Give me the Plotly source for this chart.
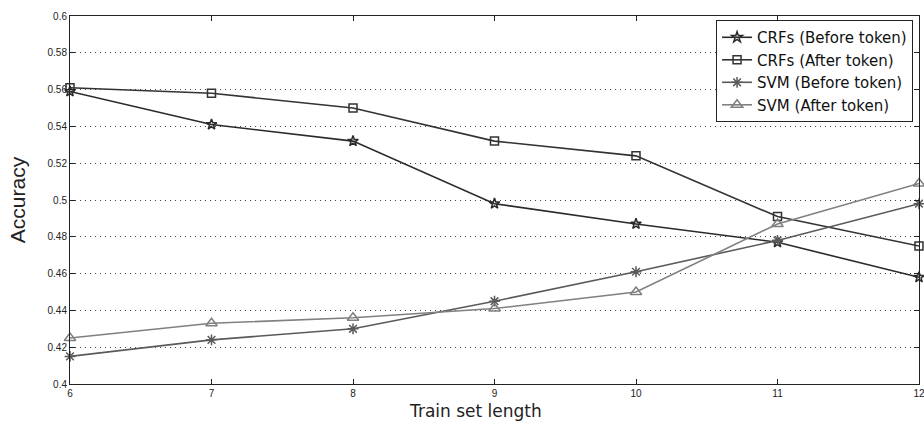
import plotly.graph_objects as go

x_vals = [6, 7, 8, 9, 10, 11, 12]
crf_before = [0.559, 0.541, 0.532, 0.498, 0.487, 0.477, 0.458]
crf_after = [0.561, 0.558, 0.550, 0.532, 0.524, 0.491, 0.475]
svm_before = [0.415, 0.424, 0.430, 0.445, 0.461, 0.478, 0.498]
svm_after = [0.425, 0.433, 0.436, 0.441, 0.450, 0.487, 0.509]
names = ["CRFs (Before token)", "CRFs (After token)", "SVM (Before token)", "SVM (After token)"]

series = [
    (crf_before, names[0], "#2a2a2a", "star-open", 8),
    (crf_after, names[1], "#333333", "square-open", 8),
    (svm_before, names[2], "#5a5a5a", "asterisk-open", 9),
    (svm_after, names[3], "#808080", "triangle-up-open", 10),
]

fig = go.Figure()
for y, name, color, sym, size in series:
    fig.add_trace(go.Scatter(
        x=x_vals, y=y, name=name, mode="lines+markers",
        line=dict(color=color, width=1.6),
        marker=dict(symbol=sym, size=size, color=color, line=dict(width=1.5, color=color)),
        cliponaxis=False,
    ))

axis_common = dict(
    showline=True, linecolor="#222", linewidth=1, mirror="ticks",
    ticks="inside", ticklen=5, tickcolor="#222",
    tickfont=dict(family="Liberation Sans, Arial, sans-serif", size=10, color="#222"),
    zeroline=False, ticklabeloverflow="allow", automargin=False,
)

fig.update_xaxes(range=[6, 12], dtick=1, showgrid=False, **axis_common)
fig.update_yaxes(
    range=[0.4, 0.6], dtick=0.02, showgrid=True, gridcolor="#444", gridwidth=1, griddash="1px,4px",
    title=dict(text="Accuracy", font=dict(family="Liberation Sans, Arial, sans-serif", size=21, color="#222"), standoff=16),
    **axis_common,
)

fig.add_annotation(
    text="Train set length", xref="paper", yref="paper", x=0.478, y=0,
    xanchor="center", yanchor="top", yshift=-15, showarrow=False,
    font=dict(family="DejaVu Sans, sans-serif", size=17, color="#222"),
)

fig.update_layout(
    width=924, height=421,
    margin=dict(l=70, r=5, t=16, b=37, autoexpand=False),
    paper_bgcolor="white", plot_bgcolor="white",
    showlegend=True,
    legend=dict(
        x=0.993, y=0.989, xanchor="right", yanchor="top",
        bgcolor="white", bordercolor="#222", borderwidth=1,
        font=dict(family="DejaVu Sans, sans-serif", size=15, color="#111"),
        tracegroupgap=0, itemwidth=30,
    ),
)

fig.write_html("out.html")
